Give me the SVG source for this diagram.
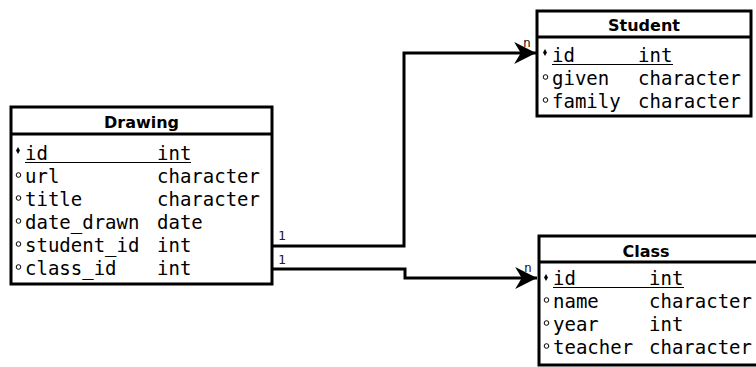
<svg xmlns="http://www.w3.org/2000/svg" width="756" height="367" viewBox="0 0 756 367">
<defs>
<style>
.box{fill:#fff;stroke:#000;stroke-width:3}
.sep{stroke:#000;stroke-width:3}
.title{font-family:"DejaVu Sans",sans-serif;font-weight:bold;font-size:16px;text-anchor:middle;fill:#000}
.f{font-family:"DejaVu Sans Mono",monospace;font-size:19px;fill:#000}
.u{stroke:#000;stroke-width:1.2}
.pk{fill:#000}
.o{fill:none;stroke:#000;stroke-width:1}
.conn{fill:none;stroke:#000;stroke-width:3}
.lbl{font-family:"DejaVu Sans Mono",monospace;font-size:13px;fill:#222}
</style>
<marker id="arr" markerUnits="userSpaceOnUse" markerWidth="24" markerHeight="24" viewBox="-21 -11 22 22" refX="0" refY="0" orient="auto">
<polygon points="0,0 -20,-10 -14,0 -20,10" fill="#000"/>
</marker>
</defs>
<g id="connectors">
<path class="conn" d="M272,246 H404 V53 H536" marker-end="url(#arr)"/>
<path class="conn" d="M272,269 H405 V278 H537" marker-end="url(#arr)"/>
<text class="lbl" x="278" y="240">1</text>
<text class="lbl" x="278" y="264">1</text>
<text class="lbl" x="523" y="47">n</text>
<text class="lbl" x="524" y="272">n</text>
</g>
<g id="drawing">
<rect class="box" x="11" y="107" width="261" height="177"/>
<line class="sep" x1="11" y1="134" x2="272" y2="134"/>
<text class="title" x="141.5" y="128">Drawing</text>
<polygon class="pk" points="18,147 20,150.5 18,154 16,150.5"/>
<text class="f" x="25" y="160">id</text><text class="f" x="157" y="160">int</text>
<line class="u" x1="25" y1="162.5" x2="191" y2="162.5"/>
<circle class="o" cx="18.5" cy="175" r="2.3"/>
<text class="f" x="25" y="183">url</text><text class="f" x="157" y="183">character</text>
<circle class="o" cx="18.5" cy="198" r="2.3"/>
<text class="f" x="25" y="206">title</text><text class="f" x="157" y="206">character</text>
<circle class="o" cx="18.5" cy="221" r="2.3"/>
<text class="f" x="25" y="229">date_drawn</text><text class="f" x="157" y="229">date</text>
<circle class="o" cx="18.5" cy="244" r="2.3"/>
<text class="f" x="25" y="252">student_id</text><text class="f" x="157" y="252">int</text>
<circle class="o" cx="18.5" cy="267" r="2.3"/>
<text class="f" x="25" y="275">class_id</text><text class="f" x="157" y="275">int</text>
</g>
<g id="student">
<rect class="box" x="537" y="11" width="214" height="105"/>
<line class="sep" x1="537" y1="37" x2="751" y2="37"/>
<text class="title" x="644" y="31">Student</text>
<polygon class="pk" points="545,49 547,52.5 545,56 543,52.5"/>
<text class="f" x="552" y="62">id</text><text class="f" x="638" y="62">int</text>
<line class="u" x1="552" y1="64.5" x2="673" y2="64.5"/>
<circle class="o" cx="545.5" cy="77" r="2.3"/>
<text class="f" x="552" y="85">given</text><text class="f" x="638" y="85">character</text>
<circle class="o" cx="545.5" cy="100" r="2.3"/>
<text class="f" x="552" y="108">family</text><text class="f" x="638" y="108">character</text>
</g>
<g id="class">
<rect class="box" x="539" y="236" width="219" height="129"/>
<line class="sep" x1="539" y1="262" x2="758" y2="262"/>
<text class="title" x="646" y="257">Class</text>
<polygon class="pk" points="546,274 548,277.5 546,281 544,277.5"/>
<text class="f" x="553" y="285">id</text><text class="f" x="649" y="285">int</text>
<line class="u" x1="553" y1="287.5" x2="684" y2="287.5"/>
<circle class="o" cx="546.5" cy="300" r="2.3"/>
<text class="f" x="553" y="308">name</text><text class="f" x="649" y="308">character</text>
<circle class="o" cx="546.5" cy="323" r="2.3"/>
<text class="f" x="553" y="331">year</text><text class="f" x="649" y="331">int</text>
<circle class="o" cx="546.5" cy="346" r="2.3"/>
<text class="f" x="553" y="354">teacher</text><text class="f" x="649" y="354">character</text>
</g>
</svg>
